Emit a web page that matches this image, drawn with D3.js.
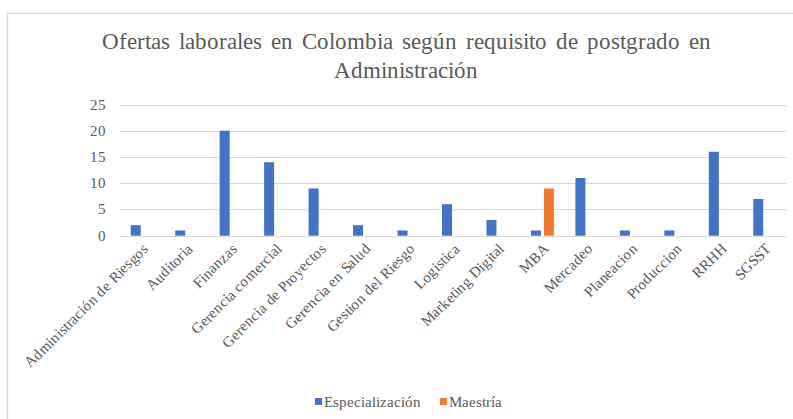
<!DOCTYPE html>
<html><head><meta charset="utf-8"><script src="https://cdn.jsdelivr.net/npm/d3@7"></script>
<style>
  @font-face { font-family: 'TNR'; src: local('Liberation Serif'), local('LiberationSerif'), local('Tinos'), local('Times New Roman'); }
  body { margin: 0; }
  svg text { font-family: 'TNR', 'Liberation Serif', 'Times New Roman', Tinos, serif; }
</style>
</head>
<body>
<script>
// datos del grafico
var categorias = ['Administración de Riesgos', 'Auditoria', 'Finanzas', 'Gerencia comercial',
  'Gerencia de Proyectos', 'Gerencia en Salud', 'Gestion del Riesgo', 'Logistica',
  'Marketing Digital', 'MBA', 'Mercadeo', 'Planeacion', 'Produccion', 'RRHH', 'SGSST'];
var especializacion = [2, 1, 20, 14, 9, 2, 1, 6, 3, 1, 11, 1, 1, 16, 7];
var maestria = [null, null, null, null, null, null, null, null, null, 9, null, null, null, null, null];
var series = ['Especialización', 'Maestría'];
var colores = ['#4472c4', '#ed7d31'];
var yTicks = [0, 5, 10, 15, 20, 25];

var W = 793, H = 419;
var mIzq = 120, mDer = 787, mSup = 104.5, mInf = 235.7;
var gris = '#595959';

var svg = d3.select('body').append('svg')
  .attr('width', W).attr('height', H);

// marco del grafico
svg.append('rect')
  .attr('x', 7.5).attr('y', 13.5).attr('width', W + 20).attr('height', H + 20)
  .attr('fill', '#fff').attr('stroke', '#d9d9d9').attr('stroke-width', 1.5);

// titulo
var lineas = ['Ofertas laborales en Colombia según requisito de postgrado en', 'Administración'];
svg.append('g').selectAll('text').data(lineas).enter().append('text')
  .attr('x', 406).attr('y', function(d, i){ return 49 + i * 29; })
  .attr('text-anchor', 'middle').attr('font-size', 23).attr('fill', gris)
  .style('word-spacing', '3px')
  .text(function(d){ return d; });

var x = d3.scaleBand().domain(categorias).range([mIzq, mDer]);
var y = d3.scaleLinear().domain([0, 25]).range([mInf, mSup]);
var barW = 10, gap = 3;

// lineas de cuadricula
svg.append('g').selectAll('line').data(yTicks).enter().append('line')
  .attr('x1', mIzq).attr('x2', mDer)
  .attr('y1', function(d){ return Math.round(y(d)) + 0.5; })
  .attr('y2', function(d){ return Math.round(y(d)) + 0.5; })
  .attr('stroke', '#d9d9d9').attr('stroke-width', 1.2);

svg.append('g').selectAll('text').data(yTicks).enter().append('text')
  .attr('x', 106).attr('y', function(d){ return y(d) + 5; })
  .attr('text-anchor', 'end').attr('font-size', 15).attr('fill', gris)
  .text(function(d){ return d; });

// barras
var datos = [especializacion, maestria];
datos.forEach(function(vals, s){
  var puntos = vals.map(function(v, i){ return { cat: categorias[i], v: v }; })
    .filter(function(p){ return p.v != null; });
  svg.append('g').selectAll('rect').data(puntos).enter()
    .append('rect')
    .attr('x', function(d){
      var c = x(d.cat) + x.bandwidth() / 2;
      return c - (barW * 2 + gap) / 2 + s * (barW + gap);
    })
    .attr('y', function(d){ return y(d.v); })
    .attr('width', barW)
    .attr('height', function(d){ return mInf - y(d.v); })
    .attr('fill', colores[s]);
});

// etiquetas del eje x
svg.append('g').selectAll('text').data(categorias).enter().append('text')
  .attr('text-anchor', 'end').attr('font-size', 15).attr('fill', gris)
  .attr('transform', function(d){
    var cx = x(d) + x.bandwidth() / 2;
    return 'translate(' + (cx + 7) + ',' + (mInf + 14) + ') rotate(-45)';
  })
  .text(function(d){ return d; });

// leyenda
var ley = [{ n: series[0], c: colores[0], x: 315 }, { n: series[1], c: colores[1], x: 440 }];
var lg = svg.append('g').selectAll('g').data(ley).enter().append('g');
lg.append('rect').attr('x', function(d){ return d.x; }).attr('y', 398)
  .attr('width', 7).attr('height', 7).attr('fill', function(d){ return d.c; });
lg.append('text').attr('x', function(d){ return d.x + 9; }).attr('y', 407)
  .attr('font-size', 15).attr('fill', gris)
  .text(function(d){ return d.n; });
</script>
</body>
</html>
